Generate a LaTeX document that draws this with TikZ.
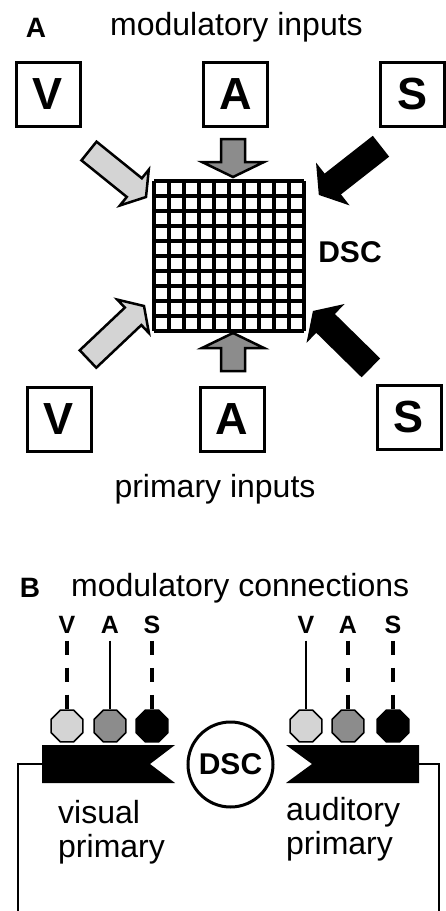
\documentclass[tikz,border=0pt]{standalone}
\usepackage{fontspec}
\setmainfont{Liberation Sans}
\usetikzlibrary{calc,shapes.geometric}

\definecolor{vgray}{gray}{0.83}
\definecolor{agray}{gray}{0.55}

% block arrow: tail, tip, fill, half width of the head
\newcommand{\fatarrow}[4]{%
  \coordinate (fa-c) at ($(#2)!15pt!(#1)$);
  \filldraw[line width=2.5pt, line join=miter, fill=#3]
    ($(#1)!12pt!90:(#2)$) -- ($(fa-c)!12pt!90:(#2)$) -- ($(fa-c)!#4!90:(#2)$)
    -- (#2) -- ($(fa-c)!#4!-90:(#2)$) -- ($(fa-c)!12pt!-90:(#2)$)
    -- ($(#1)!12pt!-90:(#2)$) -- cycle;
}

\begin{document}
\begin{tikzpicture}[x=1pt, y=-1pt,
		inbox/.style={draw, line width=3pt, minimum size=64pt, inner sep=0pt,
			font=\fontsize{45}{54}\selectfont\bfseries},
		heading/.style={inner sep=0pt, anchor=base west, font=\fontsize{32}{34}\selectfont},
		panel/.style={inner sep=0pt, anchor=base, font=\fontsize{28}{32}\selectfont\bfseries},
		sense/.style={inner sep=0pt, outer sep=7pt, font=\fontsize{25}{30}\selectfont\bfseries},
		synapse/.style={regular polygon, regular polygon sides=8, minimum size=34.5pt,
			inner sep=0pt, draw, line width=1.5pt},
		direct/.style={line width=2.5pt},
		indirect/.style={line width=3.5pt, dash pattern=on 14pt off 13pt},
		feedback/.style={line width=2.5pt},
		gridline/.style={line width=3.5pt}
		]
		\useasboundingbox (0,0) rectangle (445,911);
		
		% panel A
		\node[panel] (pa) at (36,37) {A};
		\node[heading] (modin) at (110,35) {modulatory inputs};
		\node[inbox] (vmod) at (48,94) {V};
		\node[inbox] (amod) at (235.5,94) {A};
		\node[inbox] (smod) at (412.5,94) {S};
		\node[inbox] (vpri) at (59,419.5) {V};
		\node[inbox] (apri) at (232,419.5) {A};
		\node[inbox] (spri) at (409,417.5) {S};
		\node[heading, anchor=base] (priin) at (215,497) {primary inputs};
		
		\node[minimum size=150pt, inner sep=0pt] (dsc) at (229,256) {};
		\foreach \k in {0,...,10} {
			\draw[gridline] (154+15*\k,181) -- (154+15*\k,331);
			\draw[gridline] (154,181+15*\k) -- (304,181+15*\k);
		}
		\node[font=\fontsize{30}{36}\selectfont\bfseries] (dsclabel) at (350,252.5) {DSC};
		
		\coordinate (vmodtail) at (89,151);   \coordinate (vmodtip) at (146,197);
		\coordinate (amodtail) at (233,139);  \coordinate (amodtip) at (233,177);
		\coordinate (smodtail) at (380,147);  \coordinate (smodtip) at (320,194);
		\coordinate (vpritail) at (88,359);   \coordinate (vpritip) at (144,306);
		\coordinate (apritail) at (233,371);  \coordinate (apritip) at (233,333);
		\coordinate (spritail) at (370,367);  \coordinate (spritip) at (314,312);
		\fatarrow{vmodtail}{vmodtip}{vgray}{23pt}
		\fatarrow{amodtail}{amodtip}{agray}{31pt}
		\fatarrow{smodtail}{smodtip}{black}{23pt}
		\fatarrow{vpritail}{vpritip}{vgray}{23pt}
		\fatarrow{apritail}{apritip}{agray}{31pt}
		\fatarrow{spritail}{spritip}{black}{23pt}
		
		% panel B
		\node[panel] (pb) at (30,597) {B};
		\node[heading] (modcon) at (71,596) {modulatory connections};
		
		\node[sense] (lv) at (67,625) {V};
		\node[sense] (la) at (110,625) {A};
		\node[sense] (ls) at (152,625) {S};
		\node[sense] (rv) at (306,625) {V};
		\node[sense] (ra) at (348,625) {A};
		\node[sense] (rs) at (393,625) {S};
		
		\node[synapse, fill=vgray] (lvo) at (67,726) {};
		\node[synapse, fill=agray] (lao) at (110,726) {};
		\node[synapse, fill=black] (lso) at (152,726) {};
		\node[synapse, fill=vgray] (rvo) at (306,726) {};
		\node[synapse, fill=agray] (rao) at (348,726) {};
		\node[synapse, fill=black] (rso) at (393,726) {};
		
		\draw[indirect] (lv.south) -- (lvo.north);
		\draw[direct] (la.south) -- (lao.north);
		\draw[indirect] (ls.south) -- (lso.north);
		\draw[direct] (rv.south) -- (rvo.north);
		\draw[indirect] (ra.south) -- (rao.north);
		\draw[indirect] (rs.south) -- (rso.north);
		
		\fill (42,745) -- (175,745) -- (150,764) -- (175,783) -- (42,783) -- cycle;
		\fill (286,745) -- (419,745) -- (419,783) -- (286,783) -- (312,764) -- cycle;
		\coordinate (visend) at (42,764);
		\coordinate (audend) at (419,764);
		\coordinate (visout) at (18,911);
		\coordinate (audout) at (439,911);
		\draw[feedback] (visend) -| (visout);
		\draw[feedback] (audend) -| (audout);
		
		\node[circle, draw, line width=3pt, minimum size=85pt, inner sep=0pt,
			font=\fontsize{30}{36}\selectfont\bfseries] (dscb) at (230.5,764.5) {DSC};
		
		\node[heading, align=left] (vispri) at (58,857) {visual\\primary};
		\node[heading, align=left] (audpri) at (286,854) {auditory\\primary};
	\end{tikzpicture}
\end{document}
